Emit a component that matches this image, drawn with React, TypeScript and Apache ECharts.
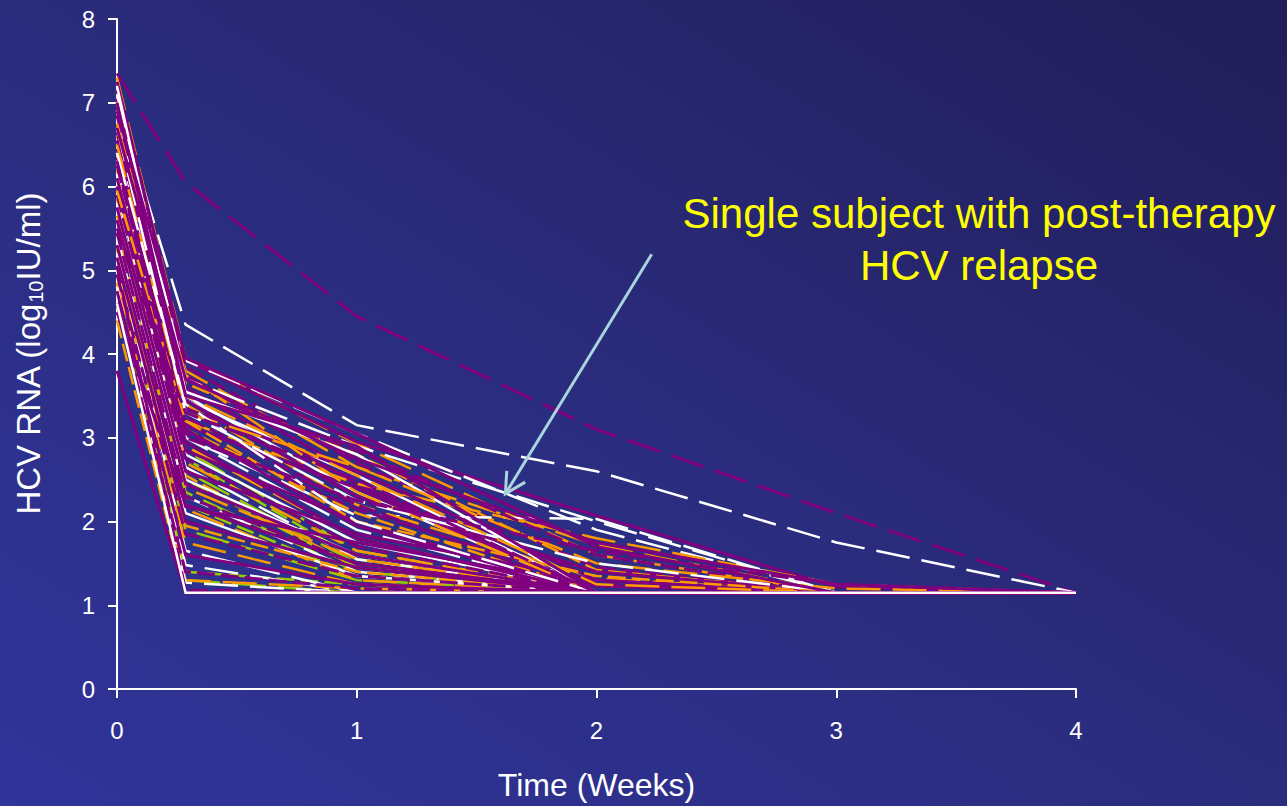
import React, { useEffect, useRef } from "react";
import * as echarts from "echarts";

// Time points (weeks): baseline, day 2, week 1, 2, 3, 4
const weeks = [0, 0.286, 1, 2, 3, 4];
const xTickValues = [0, 1, 2, 3, 4];
const yTickValues = [0, 1, 2, 3, 4, 5, 6, 7, 8];

// HCV RNA (log10 IU/ml) per subject, one row per subject at the time points above
const purpleSubjects: number[][] = [
  [7.35, 6.05, 4.45, 3.1, 2.1, 1.15],
  [7.25, 3.92, 2.95, 2.07, 1.22, 1.15],
  [7.15, 3.85, 2.7, 1.45, 1.15, 1.15],
  [7.05, 3.75, 2.55, 1.15, 1.15, 1.15],
  [6.95, 3.6, 2.45, 1.15, 1.15, 1.15],
  [6.85, 3.55, 2.85, 1.6, 1.15, 1.15],
  [6.75, 3.45, 2.3, 1.4, 1.15, 1.15],
  [6.65, 3.35, 2.6, 1.3, 1.15, 1.15],
  [6.55, 3.25, 2.2, 1.15, 1.15, 1.15],
  [6.45, 3.15, 2.4, 1.15, 1.15, 1.15],
  [6.35, 3.1, 1.95, 1.15, 1.15, 1.15],
  [6.25, 3.05, 2.15, 1.25, 1.15, 1.15],
  [6.1, 2.95, 1.8, 1.15, 1.15, 1.15],
  [6.0, 2.85, 2.0, 1.15, 1.15, 1.15],
  [5.9, 2.75, 1.7, 1.15, 1.15, 1.15],
  [5.75, 2.6, 1.85, 1.3, 1.15, 1.15],
  [5.6, 2.45, 1.6, 1.15, 1.15, 1.15],
  [5.45, 2.3, 1.5, 1.15, 1.15, 1.15],
  [5.3, 2.18, 1.75, 1.23, 1.15, 1.15],
  [5.15, 2.0, 1.45, 1.15, 1.15, 1.15],
  [4.95, 1.85, 1.35, 1.15, 1.15, 1.15],
  [4.75, 1.6, 1.25, 1.15, 1.15, 1.15],
  [4.6, 1.4, 1.2, 1.15, 1.15, 1.15],
  [3.8, 1.15, 1.15, 1.15, 1.15, 1.15],
  [5.05, 1.18, 1.15, 1.15, 1.15, 1.15],
  [6.9, 3.95, 3.05, 1.7, 1.15, 1.15],
  [6.7, 3.7, 2.75, 1.75, 1.25, 1.15],
  [5.5, 3.3, 2.5, 1.15, 1.15, 1.15],
  [7.0, 3.5, 2.9, 1.15, 1.15, 1.15],
  [4.5, 2.2, 1.5, 1.15, 1.15, 1.15],
  [6.3, 3.0, 2.25, 1.65, 1.25, 1.15],
];

const whiteSubjects: number[][] = [
  [7.0, 4.35, 3.15, 2.6, 1.75, 1.15],
  [6.8, 3.92, 3.05, 1.9, 1.15, 1.15],
  [6.6, 3.0, 2.07, 2.03, 1.15, 1.15],
  [6.5, 3.45, 2.55, 1.15, 1.15, 1.15],
  [6.9, 3.5, 2.35, 1.15, 1.15, 1.15],
  [6.3, 3.0, 1.9, 1.15, 1.15, 1.15],
  [6.15, 2.8, 1.75, 1.15, 1.15, 1.15],
  [5.95, 2.65, 1.55, 1.15, 1.15, 1.15],
  [5.8, 2.5, 1.6, 1.15, 1.15, 1.15],
  [5.6, 2.3, 1.4, 1.15, 1.15, 1.15],
  [5.4, 2.1, 1.35, 1.15, 1.15, 1.15],
  [5.2, 1.65, 1.15, 1.15, 1.15, 1.15],
  [5.0, 1.48, 1.15, 1.15, 1.15, 1.15],
  [4.8, 1.27, 1.15, 1.15, 1.15, 1.15],
  [4.6, 1.15, 1.15, 1.15, 1.15, 1.15],
  [7.2, 3.55, 2.8, 1.15, 1.15, 1.15],
  [6.7, 3.3, 2.25, 1.5, 1.15, 1.15],
  [7.1, 3.7, 2.9, 2.0, 1.15, 1.15],
  [6.4, 3.4, 2.0, 1.15, 1.15, 1.15],
];

const orangeSubjects: number[][] = [
  [7.3, 3.95, 2.93, 1.6, 1.15, 1.15],
  [7.1, 3.8, 2.65, 1.72, 1.15, 1.15],
  [6.9, 3.65, 2.8, 1.42, 1.15, 1.15],
  [6.6, 3.4, 2.2, 1.32, 1.15, 1.15],
  [6.4, 3.2, 2.45, 1.8, 1.25, 1.15],
  [6.2, 3.1, 2.1, 1.15, 1.15, 1.15],
  [6.0, 2.9, 1.8, 1.15, 1.15, 1.15],
  [5.85, 2.7, 1.65, 1.15, 1.15, 1.15],
  [5.65, 2.55, 1.45, 1.15, 1.15, 1.15],
  [5.45, 2.4, 1.55, 1.15, 1.15, 1.15],
  [5.25, 2.15, 1.3, 1.15, 1.15, 1.15],
  [5.05, 1.95, 1.4, 1.15, 1.15, 1.15],
  [4.85, 1.75, 1.25, 1.15, 1.15, 1.15],
  [4.6, 1.3, 1.2, 1.15, 1.15, 1.15],
  [4.4, 1.15, 1.15, 1.15, 1.15, 1.15],
  [6.75, 3.75, 2.35, 1.15, 1.15, 1.15],
  [6.5, 3.3, 2.65, 1.5, 1.2, 1.15],
  [5.95, 3.2, 2.0, 1.35, 1.15, 1.15],
  [7.0, 3.5, 2.55, 1.25, 1.15, 1.15],
];

const greenSubjects: number[][] = [
  [5.9, 2.85, 1.65, 1.15, 1.15, 1.15],
  [5.75, 2.75, 1.55, 1.15, 1.15, 1.15],
  [5.6, 2.6, 1.5, 1.15, 1.15, 1.15],
  [5.45, 2.5, 1.45, 1.15, 1.15, 1.15],
  [5.3, 2.35, 1.4, 1.15, 1.15, 1.15],
  [5.15, 2.2, 1.35, 1.15, 1.15, 1.15],
  [4.95, 1.9, 1.3, 1.15, 1.15, 1.15],
  [4.8, 1.4, 1.25, 1.15, 1.15, 1.15],
  [5.05, 1.3, 1.15, 1.15, 1.15, 1.15],
];

const annotationLines = ["Single subject with post-therapy", "HCV relapse"];
const arrowTail = [2.23, 5.19];
const arrowHead = [1.62, 2.33];

// styling (kept apart from data)
const FONT = "'Liberation Sans', Arial, Helvetica, sans-serif";
const DASHES: (string | number[])[] = ["solid", [34, 12], [18, 6], [10, 4]];
const purpleDash = [1, 0, 2, 0, 0, 2, 0, 0, 2, 0, 0, 2, 0, 0, 2, 0, 0, 2, 0, 0, 2, 0, 2, 0, 2, 0, 0, 2, 0, 0, 2];
const whiteDash = [1, 1, 1, 0, 0, 1, 0, 1, 0, 1, 0, 1, 1, 1, 0, 0, 1, 1, 1];
const orangeDash = [1, 1, 2, 1, 1, 2, 1, 1, 2, 1, 1, 2, 1, 1, 2, 1, 1, 2, 1];
const greenDash = [1, 2, 1, 2, 1, 2, 1, 2, 1];

type Group = { rows: number[][]; color: string; width: number; dash: number[] };
const groups: Group[] = [
  { rows: purpleSubjects, color: "#800080", width: 3, dash: purpleDash },
  { rows: orangeSubjects, color: "#ff9900", width: 2.5, dash: orangeDash },
  { rows: greenSubjects, color: "#99cc00", width: 2.5, dash: greenDash },
  { rows: whiteSubjects, color: "#ffffff", width: 2.5, dash: whiteDash },
];

function buildSeries() {
  const out: any[] = [];
  const maxLen = Math.max(...groups.map((g) => g.rows.length));
  for (let i = 0; i < maxLen; i++) {
    groups.forEach((g, gi) => {
      const row = g.rows[i];
      if (!row) return;
      const isCover = g.rows === whiteSubjects && i === 14;
      out.push({
        type: "line",
        name: `s${gi}-${i}`,
        data: weeks.map((w, k) => [w, row[k]]),
        symbol: "none",
        silent: true,
        z: isCover ? 4 : 2,
        lineStyle: {
          color: g.color,
          width: g.width,
          type: DASHES[g.dash[i] ?? 0],
          cap: "butt",
          join: "miter",
        },
      });
    });
  }
  return out;
}

export default function App() {
  const ref = useRef<HTMLDivElement>(null);
  useEffect(() => {
    if (!ref.current) return;
    const chart = echarts.init(ref.current, undefined, { renderer: "svg" });
    const axisCommon = {
      type: "value" as const,
      axisLine: { show: true, lineStyle: { color: "#ffffff", width: 2 } },
      axisTick: { show: true, inside: false, length: 9, lineStyle: { color: "#ffffff", width: 2 } },
      splitLine: { show: false },
      nameLocation: "middle" as const,
    };
    chart.setOption({
      animation: false,
      backgroundColor: "transparent",
      grid: { left: 117, right: 211, top: 19, bottom: 115 },
      xAxis: {
        ...axisCommon,
        min: xTickValues[0],
        max: xTickValues[xTickValues.length - 1],
        interval: 1,
        name: "Time (Weeks)",
        nameGap: 80,
        nameTextStyle: { color: "#ffffff", fontSize: 32, fontFamily: FONT },
        axisLabel: { color: "#ffffff", fontSize: 24, fontFamily: FONT, margin: 29 },
      },
      yAxis: {
        ...axisCommon,
        min: yTickValues[0],
        max: yTickValues[yTickValues.length - 1],
        interval: 1,
        name: "{a|HCV RNA (log}{b|10}{a|IU/ml)}",
        nameGap: 71,
        nameTextStyle: {
          color: "#ffffff",
          fontFamily: FONT,
          rich: {
            a: { fontSize: 33, color: "#ffffff", fontFamily: FONT, lineHeight: 36, verticalAlign: "middle" },
            b: { fontSize: 20, color: "#ffffff", fontFamily: FONT, lineHeight: 20, verticalAlign: "bottom" },
          },
        },
        axisLabel: { color: "#ffffff", fontSize: 24, fontFamily: FONT, margin: 22 },
      },
      series: buildSeries(),
    });

    const t = chart.convertToPixel({ gridIndex: 0 }, arrowTail) as number[];
    const h = chart.convertToPixel({ gridIndex: 0 }, arrowHead) as number[];
    const dx = t[0] - h[0];
    const dy = t[1] - h[1];
    const len = Math.hypot(dx, dy);
    const ux = dx / len;
    const uy = dy / len;
    const ang = (28 * Math.PI) / 180;
    const armLen = 23;
    const rot = (a: number) => [
      h[0] + armLen * (ux * Math.cos(a) - uy * Math.sin(a)),
      h[1] + armLen * (ux * Math.sin(a) + uy * Math.cos(a)),
    ];
    const arrowColor = "#a8d4de";
    chart.setOption({
      graphic: [
        {
          type: "line",
          shape: { x1: t[0], y1: t[1], x2: h[0], y2: h[1] },
          style: { stroke: arrowColor, lineWidth: 3 },
          z: 10,
        },
        {
          type: "polyline",
          shape: { points: [rot(ang), [h[0], h[1]], rot(-ang)] },
          style: { stroke: arrowColor, lineWidth: 3, fill: null },
          z: 10,
        },
        {
          type: "text",
          x: 979,
          y: 187,
          z: 10,
          style: {
            text: annotationLines.join("\n"),
            fill: "#ffff00",
            fontSize: 42,
            fontFamily: FONT,
            align: "center",
            verticalAlign: "top",
            lineHeight: 52,
          },
        },
      ],
    });
    return () => chart.dispose();
  }, []);

  return (
    <div
      style={{
        position: "fixed",
        left: 0,
        top: 0,
        width: 1287,
        height: 806,
        background: "linear-gradient(to top right, #30349a 0%, #2b2d80 45%, #211d58 100%)",
      }}
    >
      <div ref={ref} style={{ width: 1287, height: 806 }} />
    </div>
  );
}
